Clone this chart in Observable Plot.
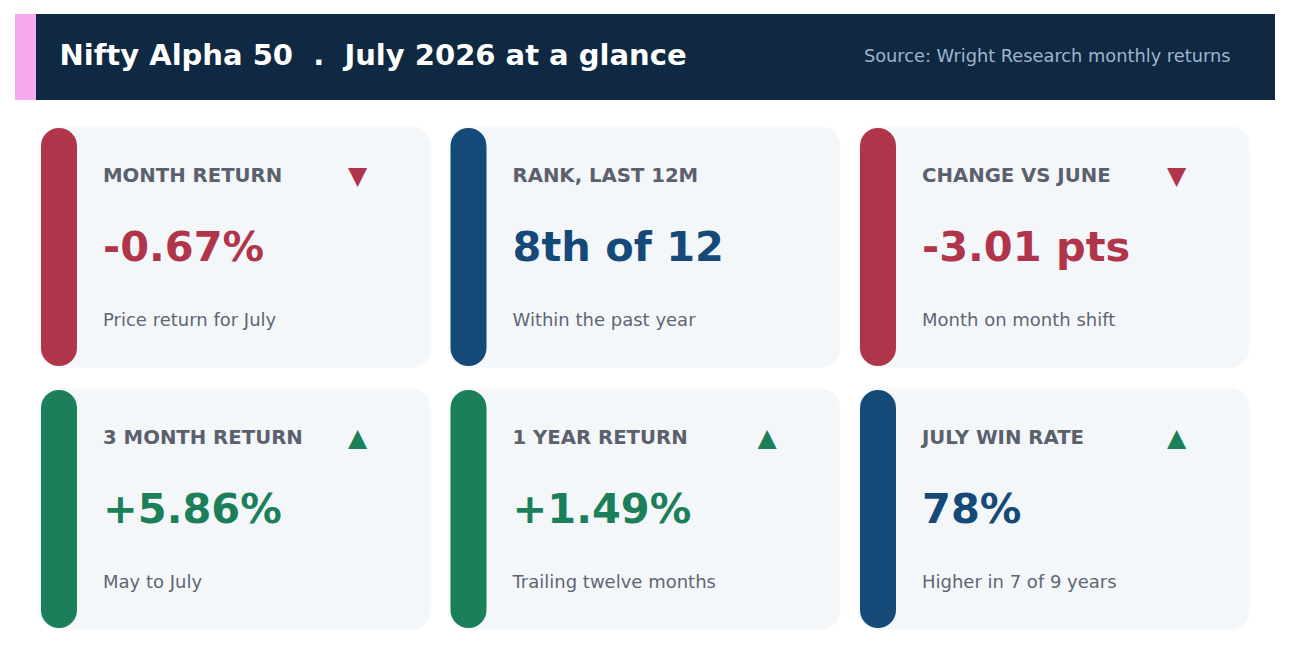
<!DOCTYPE html>
<html><head><meta charset="utf-8">
<script src="https://cdn.jsdelivr.net/npm/d3@7"></script>
<script src="https://cdn.jsdelivr.net/npm/@observablehq/plot@0.6"></script>
<style>body{margin:0;background:#fff}</style>
</head><body><div id="chart"></div>
<script>
const headerTitle = "Nifty Alpha 50  .  July 2026 at a glance";
const headerSource = "Source: Wright Research monthly returns";
const labels = ["MONTH RETURN","RANK, LAST 12M","CHANGE VS JUNE","3 MONTH RETURN","1 YEAR RETURN","JULY WIN RATE"];
const values = ["-0.67%","8th of 12","-3.01 pts","+5.86%","+1.49%","78%"];
const notes = ["Price return for July","Within the past year","Month on month shift","May to July","Trailing twelve months","Higher in 7 of 9 years"];
const tones = ["neg","neutral","neg","pos","pos","neutral"];
const arrows = ["down",null,"down","up","up","up"];

const toneColor = {neg:"#b0354a", pos:"#1b7f5a", neutral:"#154a78"};
const arrowColor = {down:"#b0354a", up:"#1b7f5a"};

// layout (pixel space)
const W = 1290, H = 659;
const cardW = 388, cardH = 238, colStep = 409.5, rowStep = 262, x0 = 41, y0 = 128;
const cards = labels.map((label, i) => {
  const col = i % 3, row = Math.floor(i / 3);
  const x = x0 + col * colStep, y = y0 + row * rowStep;
  return {label, value: values[i], note: notes[i], tone: tones[i], arrow: arrows[i],
    x1: x, x2: x + cardW, y1: y, y2: y + cardH, tx: x + 61.5, ax: x + 316, y};
});
const header = [{x1: 15, x2: 1275, y1: 14, y2: 100}];
const stripe = [{x1: 15, x2: 36, y1: 14, y2: 100}];
const arrowCards = cards.filter(d => d.arrow);

const chart = Plot.plot({
  width: W, height: H, margin: 0,
  x: {domain: [0, W], range: [0, W], axis: null},
  y: {domain: [0, H], range: [0, H], axis: null},
  style: {fontFamily: "DejaVu Sans", background: "#fff"},
  marks: [
    Plot.rect(header, {x1: "x1", x2: "x2", y1: "y1", y2: "y2", fill: "#0f2942"}),
    Plot.rect(stripe, {x1: "x1", x2: "x2", y1: "y1", y2: "y2", fill: "#f7a8ef"}),
    Plot.text([headerTitle], {x: 59, y: 55, text: d => d, textAnchor: "start", fill: "#ffffff", fontSize: 29, fontWeight: "bold"}),
    Plot.text([headerSource], {x: 1230, y: 56, text: d => d, textAnchor: "end", fill: "#9fb5cc", fontSize: 17.8}),
    // soft shadow
    Plot.rect(cards, {x1: d => d.x1 - 2, x2: d => d.x2 + 2, y1: d => d.y1 - 2, y2: d => d.y2 + 2, fill: "#f6f8fa", rx: 20}),
    Plot.rect(cards, {x1: "x1", x2: "x2", y1: "y1", y2: "y2", fill: "#f3f7fa", rx: 18}),
    Plot.rect(cards, {x1: "x1", x2: d => d.x1 + 36, y1: "y1", y2: "y2", fill: d => toneColor[d.tone], rx: 18}),
    Plot.text(cards, {x: "tx", y: d => d.y + 47, text: "label", textAnchor: "start", fill: "#5a616d", fontSize: 19.7, fontWeight: "bold"}),
    Plot.text(cards, {x: "tx", y: d => d.y + 119, text: "value", textAnchor: "start", fill: d => toneColor[d.tone], fontSize: 41.5, fontWeight: "bold"}),
    Plot.text(cards, {x: "tx", y: d => d.y + 192, text: "note", textAnchor: "start", fill: "#5f6673", fontSize: 18}),
    Plot.text(arrowCards, {x: "ax", y: d => d.y + 47, text: d => d.arrow === "down" ? "\u25BC" : "\u25B2", fill: d => arrowColor[d.arrow], fontSize: 25})
  ]
});
document.getElementById("chart").appendChild(chart);
</script>
</body></html>
